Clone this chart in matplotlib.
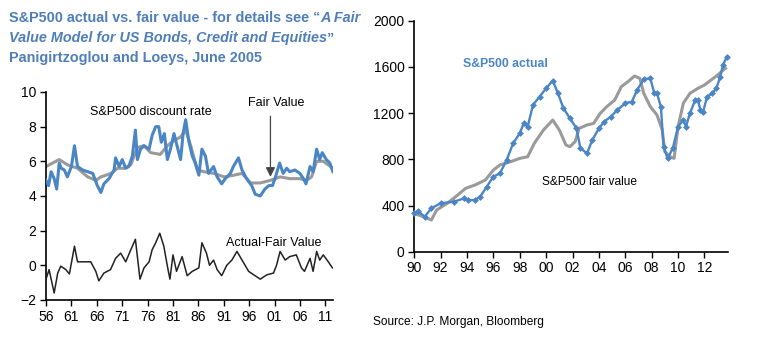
import matplotlib
matplotlib.use("Agg")
import matplotlib.pyplot as plt

plt.rcParams['font.family'] = ['Liberation Sans', 'DejaVu Sans']

# discount rate panel (years as decimals)
dr_years = [1956.0, 1956.5, 1957.0, 1957.6, 1958.1, 1958.6, 1959.0, 1959.6, 1960.2, 1961.0,
            1961.6, 1962.2, 1963.2, 1964.2, 1965.2, 1966.1, 1966.8, 1967.4, 1968.4, 1969.4,
            1969.7, 1970.4, 1971.0, 1971.7, 1972.3, 1973.0, 1973.6, 1974.0, 1974.6, 1975.3,
            1976.3, 1976.9, 1977.6, 1978.2, 1978.7, 1979.3, 1979.9, 1980.5, 1981.2, 1981.8,
            1982.5, 1983.0, 1983.5, 1984.1, 1984.8, 1985.4, 1986.1, 1986.7, 1987.4, 1988.0,
            1989.0, 1989.7, 1990.6, 1991.3, 1992.3, 1992.9, 1993.9, 1994.6, 1995.5, 1996.5,
            1997.2, 1998.2, 1999.1, 1999.9, 2000.6, 2001.2, 2002.0, 2002.7, 2003.4, 2004.0,
            2005.0, 2006.0, 2006.7, 2007.2, 2008.0, 2008.6, 2009.3, 2009.9, 2010.4, 2011.2,
            2011.9, 2012.5]
dr_actual = [4.9, 4.6, 5.4, 5.0, 4.4, 5.9, 5.6, 5.5, 5.1, 5.7,
             6.9, 5.7, 5.5, 5.4, 5.3, 4.6, 4.2, 4.7, 5.0, 5.5,
             6.2, 5.7, 6.1, 5.6, 5.7, 6.3, 7.8, 6.1, 6.7, 6.9,
             6.7, 7.5, 8.0, 8.0, 7.1, 7.6, 6.1, 6.7, 7.6, 6.9,
             6.1, 7.6, 8.4, 7.2, 6.3, 5.9, 5.2, 6.7, 6.3, 5.3,
             5.7, 5.1, 4.7, 5.0, 5.3, 5.7, 6.2, 5.5, 5.0, 4.6,
             4.1, 4.0, 4.4, 4.6, 4.6, 5.1, 5.9, 5.3, 5.6, 5.4,
             5.5, 5.3, 5.0, 4.7, 5.7, 5.4, 6.7, 6.1, 6.5, 6.1,
             5.9, 5.4]

fv_years = [1956.0, 1958.6, 1960.2, 1962.2, 1964.2, 1965.8, 1966.8, 1968.8, 1970.1, 1971.4,
            1972.7, 1974.0, 1975.3, 1976.6, 1978.5, 1979.9, 1981.2, 1982.5, 1983.5, 1984.5,
            1985.8, 1987.1, 1989.1, 1991.1, 1993.0, 1994.6, 1996.3, 1998.2, 2000.2, 2002.1,
            2004.0, 2006.0, 2007.3, 2008.3, 2009.3, 2010.6, 2012.5]
fv_rate = [5.7, 6.1, 5.8, 5.6, 5.1, 4.9, 5.1, 5.3, 5.6, 5.6,
           5.8, 6.8, 6.9, 6.5, 6.4, 6.9, 7.2, 7.4, 7.8, 6.9,
           5.5, 5.4, 5.3, 5.1, 5.2, 5.3, 4.75, 4.75, 4.9, 5.1,
           5.0, 5.0, 4.9, 5.1, 6.0, 6.0, 5.6]

gap_years = [1956.0, 1956.6, 1957.6, 1958.3, 1958.9, 1959.9, 1960.6, 1961.6, 1962.2, 1963.5,
             1964.8, 1965.8, 1966.4, 1967.4, 1968.7, 1969.7, 1970.7, 1971.7, 1972.7, 1973.6,
             1974.5, 1975.3, 1976.3, 1976.9, 1977.6, 1978.4, 1979.2, 1979.9, 1980.4, 1981.0,
             1981.7, 1982.8, 1983.8, 1984.8, 1986.1, 1986.7, 1987.6, 1988.2, 1989.0, 1989.7,
             1990.6, 1991.6, 1992.6, 1993.6, 1994.6, 1995.9, 1996.9, 1998.2, 1999.5, 2000.8,
             2001.4, 2002.1, 2003.1, 2004.0, 2005.3, 2006.3, 2006.9, 2008.0, 2008.6, 2009.3,
             2009.9, 2010.6, 2011.6, 2012.4]
gap = [-0.8, -0.25, -1.6, -0.45, -0.05, -0.25, -0.5, 1.1, 0.2, 0.2,
       0.2, -0.35, -0.9, -0.45, -0.25, 0.4, 0.7, 0.2, 0.9, 1.5,
       -0.8, -0.15, 0.2, 0.9, 1.3, 1.85, 1.1, -0.05, -0.8, 0.6,
       -0.35, 0.5, -0.6, -0.35, -0.15, 1.3, 0.7, 0.0, 0.3, -0.25,
       -0.6, 0.0, 0.3, 0.8, 0.3, -0.35, -0.55, -0.8, -0.55, -0.45,
       0.0, 0.8, 0.3, 0.5, 0.6, -0.15, -0.35, 0.4, -0.35, 0.8,
       0.3, 0.6, 0.2, -0.15]

# index level panel
spx_years = [1990.0, 1990.3, 1990.8, 1991.3, 1992.0, 1993.0, 1993.8, 1994.1, 1994.6, 1995.0,
             1995.5, 1996.0, 1996.5, 1997.0, 1997.5, 1998.0, 1998.3, 1998.6, 1999.0, 1999.5,
             2000.0, 2000.5, 2000.9, 2001.3, 2001.8, 2002.3, 2002.6, 2003.1, 2003.5, 2004.0,
             2004.4, 2004.9, 2005.4, 2006.0, 2006.5, 2006.9, 2007.4, 2007.9, 2008.2, 2008.4,
             2008.7, 2008.9, 2009.2, 2009.6, 2010.0, 2010.4, 2010.6, 2010.9, 2011.3, 2011.5,
             2011.7, 2011.9, 2012.2, 2012.6, 2012.9, 2013.2, 2013.4, 2013.7]
spx_actual = [332, 350, 303, 376, 419, 433, 462, 447, 447, 476,
              563, 650, 678, 793, 938, 1025, 1111, 1082, 1270, 1342,
              1414, 1481, 1371, 1245, 1155, 1068, 895, 852, 967, 1068,
              1126, 1169, 1227, 1285, 1299, 1400, 1493, 1501, 1371, 1371,
              1256, 909, 808, 895, 1082, 1140, 1082, 1198, 1313, 1313,
              1227, 1212, 1342, 1371, 1414, 1515, 1616, 1688]

spx_fv_years = [1990.0, 1990.8, 1991.3, 1991.7, 1992.5, 1993.3, 1993.9, 1994.6, 1995.4, 1996.0,
                1996.5, 1997.3, 1998.0, 1998.6, 1999.1, 1999.8, 2000.5, 2001.0, 2001.5, 2001.8,
                2002.2, 2002.5, 2003.1, 2003.6, 2004.1, 2004.6, 2005.2, 2005.7, 2006.2, 2006.7,
                2007.1, 2007.4, 2007.9, 2008.4, 2008.8, 2009.0, 2009.4, 2009.7, 2010.0, 2010.4,
                2010.9, 2011.5, 2012.0, 2012.5, 2013.0, 2013.6]
spx_fair = [330, 300, 274, 361, 419, 491, 549, 577, 621, 707,
            751, 779, 808, 822, 938, 1054, 1140, 1054, 924, 909,
            953, 1068, 1097, 1111, 1198, 1256, 1313, 1429, 1472, 1521,
            1501, 1371, 1256, 1184, 1054, 866, 822, 808, 1082, 1285,
            1371, 1414, 1443, 1486, 1530, 1588]

left_ticks = [1956, 1961, 1966, 1971, 1976, 1981, 1986, 1991, 1996, 2001, 2006, 2011]
right_ticks = list(range(1990, 2013, 2))

BLUE = "#4a86c5"
GREY = "#9a9a9a"
TITLE_BLUE = "#4f7fb8"
TITLE_SIZE = 10.4


def style_axes(ax):
    ax.spines["top"].set_visible(False)
    ax.spines["right"].set_visible(False)
    ax.spines["left"].set_linewidth(1.2)
    ax.spines["bottom"].set_linewidth(1.2)
    ax.tick_params(axis="both", direction="out", length=4, width=1, labelsize=10, pad=3)


def heading_line(fig, y_px, parts):
    # parts: list of (text, italic) drawn one after another on the same line
    renderer = fig.canvas.get_renderer()
    x_px = 9
    for text, italic in parts:
        t = fig.text(x_px / 783, 1 - y_px / 342, text, fontsize=TITLE_SIZE,
                     fontweight="bold", style="italic" if italic else "normal",
                     color=TITLE_BLUE, va="center")
        x_px += t.get_window_extent(renderer).width


fig = plt.figure(figsize=(7.83, 3.42), dpi=100)

# left panel
ax1 = fig.add_axes([0.0588, 0.123, 0.367, 0.608])
ax1.plot(fv_years, fv_rate, color=GREY, lw=2.2, zorder=2)
ax1.plot(dr_years, dr_actual, color=BLUE, lw=2.2, zorder=3)
ax1.plot(gap_years, gap, color="#222222", lw=1.1, zorder=3)
ax1.set_xlim(1956, 2012.6)
ax1.set_ylim(-2, 10)
ax1.set_yticks(range(-2, 11, 2))
ax1.set_xticks(left_ticks)
ax1.set_xticklabels(["%02d" % (y % 100) for y in left_ticks])
style_axes(ax1)

ax1.text(1976.6, 8.85, "S&P500 discount rate", fontsize=9, ha="center", va="center")
ax1.text(2001.4, 9.37, "Fair Value", fontsize=9, ha="center", va="center")
ax1.annotate("", xy=(2000.2, 5.1), xytext=(2000.2, 8.6),
             arrowprops=dict(arrowstyle="-|>", color="#444444", lw=0.9,
                             mutation_scale=14, shrinkA=0, shrinkB=0))
ax1.text(2000.8, 1.3, "Actual-Fair Value", fontsize=9, ha="center", va="center")

# right panel
ax2 = fig.add_axes([0.529, 0.264, 0.401, 0.6755])
ax2.plot(spx_fv_years, spx_fair, color=GREY, lw=2.2, zorder=2)
ax2.plot(spx_years, spx_actual, color=BLUE, lw=1.7, marker="D", markersize=3.5,
         markeredgewidth=0, zorder=3, clip_on=False)
ax2.set_xlim(1990, 2013.8)
ax2.set_ylim(0, 2000)
ax2.set_yticks(range(0, 2001, 400))
ax2.set_xticks(right_ticks)
ax2.set_xticklabels(["%02d" % (y % 100) for y in right_ticks])
style_axes(ax2)

ax2.text(1996.9, 1625, "S&P500 actual", fontsize=8.8, fontweight="bold", color=BLUE,
         ha="center", va="center")
ax2.text(2003.25, 601, "S&P500 fair value", fontsize=8.6, ha="center", va="center")

# heading
heading_line(fig, 18, [("S&P500 actual vs. fair value - for details see \u201c", False),
                       ("A Fair", True)])
heading_line(fig, 38, [("Value Model for US Bonds, Credit and Equities", True),
                       ("\u201d", False)])
heading_line(fig, 58, [("Panigirtzoglou and Loeys, June 2005", False)])

fig.text(373 / 783, 1 - 322 / 342, "Source: J.P. Morgan, Bloomberg", fontsize=8.6, va="center")

fig.savefig("out.png", dpi=100)
